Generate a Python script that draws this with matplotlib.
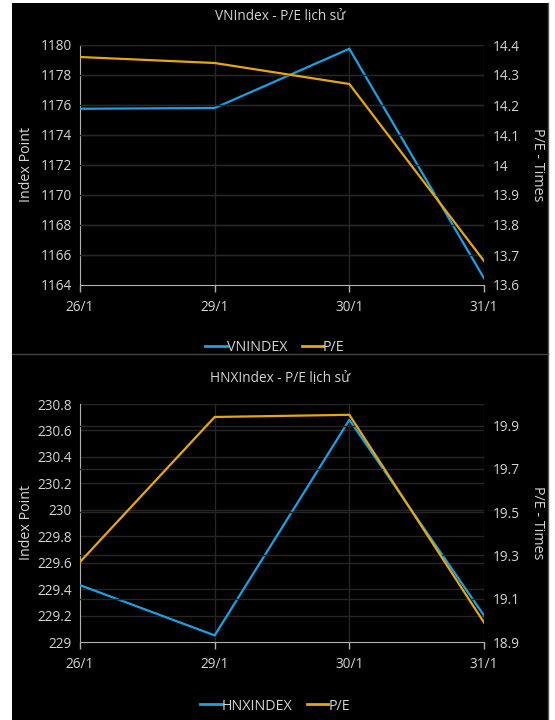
import matplotlib
matplotlib.use("Agg")
import matplotlib.pyplot as plt
from matplotlib.lines import Line2D
from matplotlib.patches import Rectangle

plt.rcParams['font.family'] = ['Open Sans', 'DejaVu Sans']

dates = ["26/1", "29/1", "30/1", "31/1"]
vn_index = [1175.75, 1175.8, 1179.75, 1164.45]
vn_pe = [14.36, 14.34, 14.27, 13.68]
hnx_index = [229.43, 229.05, 230.68, 229.2]
hnx_pe = [19.27, 19.94, 19.95, 18.99]

vn_left_ticks = [1164, 1166, 1168, 1170, 1172, 1174, 1176, 1178, 1180]
vn_right_ticks = [13.6, 13.7, 13.8, 13.9, 14.0, 14.1, 14.2, 14.3, 14.4]
vn_right_labels = ["13.6", "13.7", "13.8", "13.9", "14", "14.1", "14.2", "14.3", "14.4"]
hnx_left_ticks = [229, 229.2, 229.4, 229.6, 229.8, 230, 230.2, 230.4, 230.6, 230.8]
hnx_left_labels = ["229", "229.2", "229.4", "229.6", "229.8", "230", "230.2", "230.4", "230.6", "230.8"]
hnx_right_ticks = [18.9, 19.1, 19.3, 19.5, 19.7, 19.9]

BLUE = "#1ba1e2"
AMBER = "#e6a70a"
TXT = "#d4d4d4"
GRID = "#262626"
AXL = "#b0b0b0"

W, H = 555, 720
fig = plt.figure(figsize=(W / 100, H / 100), dpi=100, facecolor="white")

# black panel background
fig.patches.append(Rectangle((12 / W, 0), (548 - 12) / W, (H - 3) / H,
                             transform=fig.transFigure, facecolor="black",
                             edgecolor="none", zorder=-10))
fig.lines.append(Line2D([548 / W, 548 / W], [0, (H - 3) / H], transform=fig.transFigure,
                        color="#555555", lw=1, zorder=-5))
fig.lines.append(Line2D([12 / W, 548 / W], [(H - 354) / H, (H - 354) / H],
                        transform=fig.transFigure, color="#444444", lw=1, zorder=-5))


def make_panel(top_px, bot_px, title, idx_vals, pe_vals, lticks, llabels, lylim,
               rticks, rlabels, rylim, name, title_y, legend_y):
    x0, x1 = 80, 484
    ax = fig.add_axes([x0 / W, (H - bot_px) / H, (x1 - x0) / W, (bot_px - top_px) / H])
    ax.set_facecolor("none")
    ax2 = ax.twinx()
    ax2.set_facecolor("none")
    xs = list(range(len(dates)))
    ax.set_xlim(0, len(dates) - 1)
    ax.set_ylim(*lylim)
    ax2.set_ylim(*rylim)
    ax.set_yticks(lticks)
    ax.set_yticklabels(llabels)
    ax2.set_yticks(rticks)
    ax2.set_yticklabels(rlabels)
    ax.set_xticks(xs)
    ax.set_xticklabels(dates)
    for a in (ax, ax2):
        for s in a.spines.values():
            s.set_visible(False)
        a.tick_params(axis="y", length=0, colors=TXT, labelsize=9.8, pad=6)
    ax.tick_params(axis="x", length=5, width=1, color=AXL, labelcolor=TXT, labelsize=9.8, pad=6,
                   direction="out")
    ax.spines["left"].set_visible(True)
    ax.spines["left"].set_color(AXL)
    ax.spines["bottom"].set_visible(True)
    ax.spines["bottom"].set_color(AXL)
    # gridlines
    for t in lticks[1:]:
        ax.axhline(t, color=GRID, lw=1, zorder=0)
    for t in rticks[1:]:
        ax2.axhline(t, color=GRID, lw=1, zorder=0)
    for x in xs[1:]:
        ax.axvline(x, color=GRID, lw=1, zorder=0)
    ax.plot(xs, idx_vals, color=BLUE, lw=1.6, zorder=3)
    ax2.plot(xs, pe_vals, color=AMBER, lw=1.6, zorder=3)
    ax.set_ylabel("Index Point", color=TXT, fontsize=10.3, va="center")
    ax.yaxis.set_label_coords((27 - x0) / (x1 - x0), 0.5)
    ax2.set_ylabel("P/E - Times", color=TXT, fontsize=10.3, rotation=270, va="center")
    ax2.yaxis.set_label_coords((538 - x0) / (x1 - x0), 0.5)
    fig.text(280 / W, (H - title_y) / H, title, color=TXT, fontsize=9.8, ha="center", va="center")
    handles = [Line2D([], [], color=BLUE, lw=2), Line2D([], [], color=AMBER, lw=2)]
    leg = fig.legend(handles, [name, "P/E"], loc="center", bbox_to_anchor=(275 / W, (H - legend_y) / H),
                     ncol=2, frameon=False, fontsize=10.3, handlelength=1.5, handletextpad=0.0,
                     columnspacing=1.0)
    for t in leg.get_texts():
        t.set_color(TXT)
    return ax, ax2


make_panel(45, 285, "VNIndex - P/E lịch sử", vn_index, vn_pe, vn_left_ticks,
           [str(t) for t in vn_left_ticks], (1164, 1180), vn_right_ticks, vn_right_labels,
           (13.6, 14.4), "VNINDEX", 17, 348)
make_panel(404, 642, "HNXIndex - P/E lịch sử", hnx_index, hnx_pe, hnx_left_ticks,
           hnx_left_labels, (229, 230.8), hnx_right_ticks, [str(t) for t in hnx_right_ticks],
           (18.9, 20.0), "HNXINDEX", 378, 706)

fig.savefig("out.png", dpi=100, facecolor="white")
